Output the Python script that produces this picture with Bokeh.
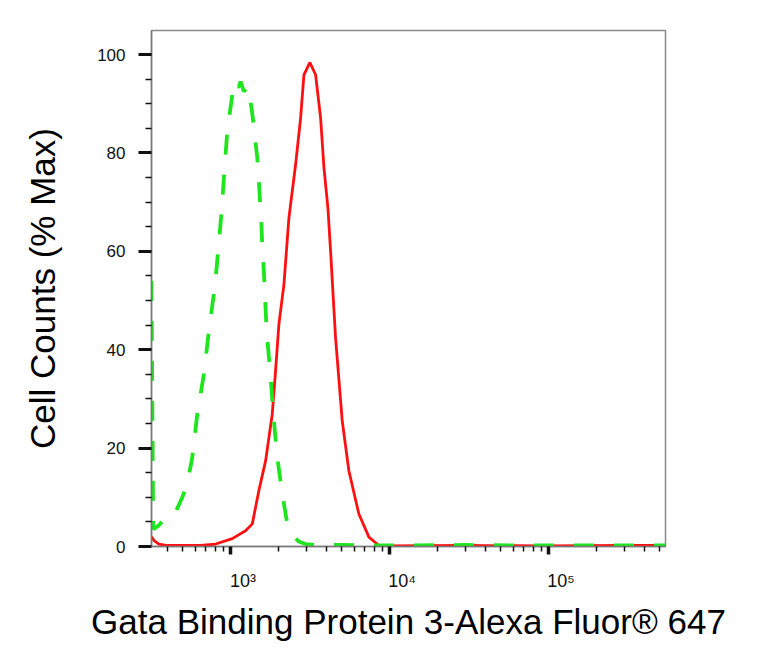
import math
from bokeh.plotting import figure
from bokeh.models import Range1d, FixedTicker
from bokeh.embed import file_html
from bokeh.resources import INLINE

# ---- data ----
# isotype control (green dashed): intensity, % max
ctrl_x = [318, 326, 354, 379, 409, 451, 497, 534, 574, 617, 679, 730, 800, 872, 917, 953,
          1025, 1044, 1091, 1128, 1156, 1212, 1292, 1369, 1402, 1472, 1507, 1560, 1583, 1624,
          1684, 1785, 1872, 1966, 2114, 2273, 2444, 2677, 2963, 3424, 5000, 10000, 30000,
          100000, 300000, 544000]
ctrl_y = [54, 3.5, 4.3, 5.5, 5.6, 7.0, 10, 12.8, 18.1, 26.9, 35, 43.8, 53.4, 67, 77, 84.4,
          91.8, 94.5, 93.5, 93.5, 94.5, 92.5, 93.5, 88, 85, 79, 74, 66, 61, 55,
          44, 34.4, 25.6, 18.1, 10.7, 4.6, 2.6, 1.0, 0.5, 0.3, 0.3, 0.2, 0.3,
          0.2, 0.2, 0.2]

# Gata3 stained sample (red solid)
gata_x = [318, 330, 354, 400, 471, 647, 805, 1025, 1242, 1369, 1507, 1660, 1828, 1918, 2013,
          2165, 2327, 2563, 2756, 2892, 3155, 3425, 3683, 3865, 4095, 4256, 4571, 5035, 5545,
          6412, 7413, 8570, 10000, 30000, 100000, 300000, 544000]
gata_y = [2.0, 1.2, 0.5, 0.2, 0.2, 0.2, 0.5, 1.6, 3.2, 4.6, 11.4, 17.4, 26.9, 35.7, 45.2,
          53.3, 66.8, 77.6, 87.1, 95.9, 98.4, 95.9, 87.1, 77, 68.8, 60, 42.5, 25.6, 15.4,
          6.6, 1.9, 0.2, 0.1, 0.2, 0.1, 0.2, 0.2]

x_major = [1000, 10000, 100000]
x_labels = ["10\u00b3", "10\u2074", "10\u2075"]
x_minor = [m * 10 ** e for e in (2, 3, 4, 5) for m in range(2, 10)]
y_major = [0, 20, 40, 60, 80, 100]
y_minor = [5, 10, 15, 25, 30, 35, 45, 50, 55, 65, 70, 75, 85, 90, 95, 100]

x_title = "Gata Binding Protein 3-Alexa Fluor\u00ae 647"
y_title = "Cell Counts (% Max)"

FONT = "Liberation Sans"
PAD = "\u00a0" * 5   # the reference starts each decade label at its tick

p = figure(width=760, height=660, x_axis_type="log",
           x_range=Range1d(318, 544000), y_range=Range1d(0, 104.9),
           output_backend="svg", toolbar_location=None, title=None,
           min_border_left=151, min_border_right=95,
           min_border_top=30, min_border_bottom=114)

p.background_fill_color = "white"
p.border_fill_color = "white"
p.xgrid.visible = False
p.ygrid.visible = False
p.outline_line_color = "#8a8a8a"
p.outline_line_width = 1.5

p.line(gata_x, gata_y, line_color="#ff1010", line_width=2.8)
p.line(ctrl_x, ctrl_y, line_color="#1ee61e", line_width=3.8, line_dash="20 20")

# axes
for ax in (p.xaxis[0], p.yaxis[0]):
    ax.axis_line_color = "#7a7a7a"
    ax.axis_line_width = 1.5
    ax.major_tick_line_color = "#111111"
    ax.minor_tick_line_color = "#111111"
    ax.major_tick_in = 0
    ax.minor_tick_in = 0
    ax.major_label_text_font = FONT
    ax.major_label_text_color = "#111111"
    ax.axis_label_text_font = FONT
    ax.axis_label_text_font_style = "normal"
    ax.axis_label_text_color = "black"
    ax.axis_label_text_font_size = "35px"

p.yaxis.ticker = FixedTicker(ticks=y_major, minor_ticks=y_minor)
p.yaxis.major_tick_out = 13
p.yaxis.major_tick_line_width = 3
p.yaxis.minor_tick_out = 6
p.yaxis.minor_tick_line_width = 1.5
p.yaxis.major_label_standoff = 13
p.yaxis.major_label_text_font_size = "17px"
p.yaxis.axis_label = y_title
p.yaxis.axis_label_standoff = 32

p.xaxis.ticker = FixedTicker(ticks=x_major, minor_ticks=x_minor)
p.xaxis.major_label_overrides = {t: PAD + lab for t, lab in zip(x_major, x_labels)}
p.xaxis.major_tick_out = 8
p.xaxis.major_tick_line_width = 3.5
p.xaxis.minor_tick_out = 5
p.xaxis.minor_tick_line_width = 1.5
p.xaxis.major_label_standoff = 16
p.xaxis.major_label_text_font_size = "18px"
p.xaxis.axis_label = x_title
p.xaxis.axis_label_standoff = 8

open("out.html", "w").write(file_html(p, INLINE))
